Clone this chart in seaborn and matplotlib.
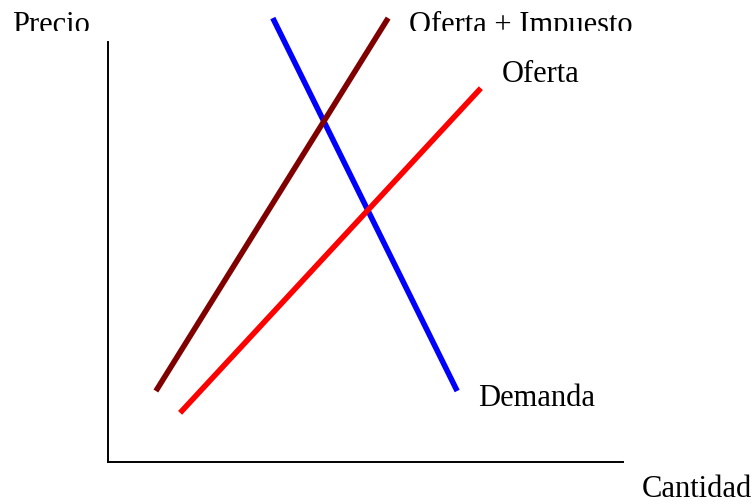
import matplotlib
matplotlib.use("Agg")
import matplotlib.pyplot as plt
from matplotlib.transforms import Bbox, TransformedBbox
import seaborn as sns
import pandas as pd

# Curve end points (Cantidad, Precio) in chart units 0..10
demanda_x = [3.20, 6.78]
demanda_y = [10.57, 1.69]
impuesto_x = [0.93, 5.44]
impuesto_y = [1.69, 10.57]
oferta_x = [1.40, 7.24]
oferta_y = [1.17, 8.90]

series_names = ["Demanda", "Oferta + Impuesto", "Oferta"]
axis_labels = ["Precio", "Cantidad"]

sns.set_theme(style="white")
plt.rcParams['font.family'] = ['Liberation Serif', 'DejaVu Serif']

W, H = 756, 504
fig = plt.figure(figsize=(W / 100, H / 100), dpi=100)
ax = fig.add_axes([108 / W, (H - 462) / H, (623 - 108) / W, 420 / H])
ax.set_xlim(0, 10)
ax.set_ylim(0, 10)

lw = 4.0
for xs, ys, col in [(demanda_x, demanda_y, "#0000FF"),
                    (impuesto_x, impuesto_y, "#800000"),
                    (oferta_x, oferta_y, "#FF0000")]:
    df = pd.DataFrame({"x": xs, "y": ys})
    sns.lineplot(data=df, x="x", y="y", color=col, linewidth=lw, sort=False,
                 clip_on=False, solid_capstyle="butt", ax=ax)

ax.set_xticks([])
ax.set_yticks([])
ax.set_xlabel("")
ax.set_ylabel("")
for s in ["top", "right"]:
    ax.spines[s].set_visible(False)
for s in ["left", "bottom"]:
    ax.spines[s].set_visible(True)
    ax.spines[s].set_color("black")
    ax.spines[s].set_linewidth(1.4)

fs = 22
clip = TransformedBbox(Bbox([[0, 1 - 31 / H], [1, 1]]), fig.transFigure)

def ftext(px, py, s, clipped=False):
    t = fig.text(px / W, 1 - py / H, s, fontsize=fs, ha="left", va="baseline",
                 color="black")
    if clipped:
        t.set_clip_box(clip)
        t.set_clip_on(True)
    return t

ftext(12, 33, axis_labels[0], clipped=True)
ftext(409, 33, series_names[1], clipped=True)
ftext(502, 82, series_names[2])
ftext(478, 406, series_names[0])
ftext(642, 497, axis_labels[1])

fig.savefig("out.png", dpi=100)
